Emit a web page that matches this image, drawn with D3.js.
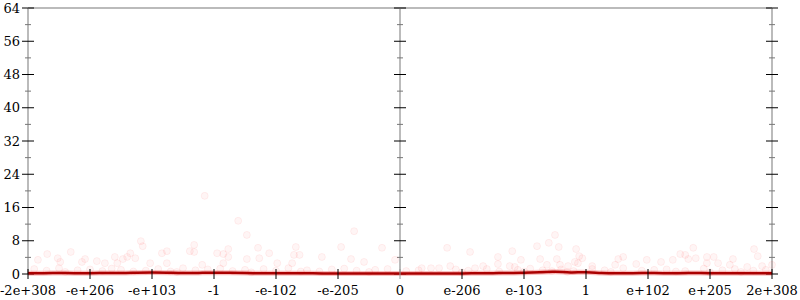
<!DOCTYPE html>
<html>
<head>
<meta charset="utf-8">
<script src="https://cdn.jsdelivr.net/npm/d3@7"></script>
<style>
  body { margin: 0; background: #fff; }
  svg text { font-family: "DejaVu Serif", serif; font-size: 13px; fill: #000; }
</style>
</head>
<body>
<svg id="chart" width="800" height="300"></svg>
<script>
// x is measured in tick steps along the ordered float range, 0 .. 12
var xTickLabels = ["-2e+308", "-e+206", "-e+103", "-1", "-e-102", "-e-205", "0",
                   "e-206", "e-103", "1", "e+102", "e+205", "2e+308"];
var yMax = 64;

// smoothed count, one value every quarter step
var lineX = [0, 0.25, 0.5, 0.75, 1, 1.25, 1.5, 1.75, 2, 2.25, 2.5, 2.75, 3, 3.25, 3.5, 3.75,
             4, 4.25, 4.5, 4.75, 5, 5.25, 5.5, 5.75, 6, 6.25, 6.5, 6.75, 7, 7.25, 7.5, 7.75,
             8, 8.25, 8.5, 8.75, 9, 9.25, 9.5, 9.75, 10, 10.25, 10.5, 10.75, 11, 11.25, 11.5, 11.75, 12];
var lineY = [0.2, 0.2, 0.25, 0.2, 0.2, 0.25, 0.2, 0.3, 0.35, 0.3, 0.2, 0.25, 0.35, 0.3, 0.2, 0.2,
             0.15, 0.2, 0.2, 0.15, 0.1, 0.15, 0.1, 0.1, 0.1, 0.1, 0.15, 0.1, 0.15, 0.2, 0.2, 0.25,
             0.3, 0.45, 0.6, 0.3, 0.5, 0.2, 0.2, 0.2, 0.25, 0.2, 0.2, 0.25, 0.2, 0.2, 0.2, 0.2, 0.2];

// sampled points
var dotX = [2.85, 1.82, 1.85, 2.68, 2.68, 2.24, 2.16, 0.69, 0.31, 0.16, 1.65, 1.60, 1.53, 1.40, 1.73, 1.11,
            0.92, 0.87, 0.48, 0.52, 1.44, 1.97, 2.24, 2.61, 2.81, 1.24, 3.39, 3.53, 5.26, 5.05, 5.71, 5.92,
            3.15, 3.05, 3.23, 3.23, 3.71, 3.89, 4.32, 4.29, 4.38, 3.73, 3.53, 4.02, 4.26, 4.74, 5.21, 5.42,
            3.15, 8.50, 8.40, 8.56, 8.21, 8.84, 8.89, 8.94, 8.82, 6.76, 7.13, 7.58, 7.81, 7.95, 7.58, 8.26,
            8.53, 8.58, 8.37, 6.81, 6.63, 6.35, 7.77, 7.85, 7.21, 7.34, 8.71, 8.87, 10.73, 10.52, 10.60, 10.65,
            10.77, 10.95, 10.95, 11.06, 11.13, 11.37, 11.32, 11.71, 11.77, 9.60, 9.52, 9.98, 10.21, 10.40, 9.81, 9.47,
            9.10, 11.84, 12.0, 11.60,
            0.1, 0.3, 0.5, 0.8, 1.0, 1.2, 1.35, 1.5, 1.9, 2.1, 2.3, 2.5, 2.7, 2.9, 3.1, 3.3,
            3.5, 3.8, 4.0, 4.2, 4.5, 4.7, 4.9, 5.1, 5.3, 5.6, 5.8, 6.1, 6.3, 6.5, 6.9, 7.1,
            7.4, 7.6, 7.9, 8.1, 8.3, 8.6, 8.8, 9.1, 9.3, 9.6, 9.9, 10.1, 10.3, 10.6, 10.9, 11.2,
            11.4, 11.7, 11.9, 0.6, 1.7, 2.4, 3.6, 4.4, 5.5, 7.0, 8.0, 8.45, 8.7, 9.4, 10.45, 11.0, 11.5];
var dotY = [18.8, 7.9, 6.7, 7.0, 5.3, 5.5, 5.0, 5.3, 4.8, 3.4, 5.0, 4.1, 3.6, 4.1, 3.8, 3.1,
            3.6, 2.9, 3.8, 2.9, 2.6, 2.6, 2.6, 5.5, 2.2, 2.6, 12.8, 9.4, 10.3, 6.5, 6.3, 3.4,
            4.8, 5.0, 6.0, 4.1, 6.3, 5.0, 6.5, 4.6, 4.6, 3.8, 3.6, 2.6, 2.6, 4.1, 3.6, 2.9,
            2.6, 9.4, 7.5, 6.5, 6.7, 6.0, 4.3, 3.8, 2.9, 6.3, 5.3, 4.1, 5.5, 3.4, 2.4, 3.6,
            3.6, 2.2, 2.2, 1.9, 1.4, 1.4, 1.9, 1.7, 1.4, 1.9, 1.9, 2.6, 6.3, 4.8, 4.6, 3.6,
            3.8, 4.1, 2.6, 4.1, 2.6, 3.6, 2.2, 6.0, 4.3, 4.1, 3.6, 3.4, 2.9, 3.4, 2.4, 2.2,
            1.9, 1.9, 2.2, 1.7,
            1.2, 0.8, 1.4, 0.9, 1.1, 0.7, 1.3, 1.0, 0.8, 1.2, 0.6, 1.4, 0.9, 1.1, 1.3, 0.7,
            1.0, 1.2, 0.8, 1.4, 0.9, 0.6, 1.1, 1.3, 0.8, 1.0, 1.2, 0.7, 0.9, 1.4, 1.1, 0.8,
            1.2, 0.6, 1.0, 1.3, 0.9, 1.1, 0.7, 1.2, 0.9, 1.4, 0.8, 1.0, 1.1, 0.7, 1.3, 0.9,
            1.2, 0.8, 1.0, 0.5, 0.6, 0.5, 0.4, 0.6, 0.5, 0.4, 0.6, 0.7, 0.5, 0.5, 0.6, 0.4, 0.5];

var margin = {top: 8, right: 28, bottom: 26, left: 28},
    width = 800 - margin.left - margin.right,
    height = 300 - margin.top - margin.bottom;

var x = d3.scaleLinear().domain([0, xTickLabels.length - 1]).range([0, width]);
var y = d3.scaleLinear().domain([0, yMax]).range([height, 0]);

var svg = d3.select("#chart")
  .append("g")
    .attr("transform", "translate(" + margin.left + "," + margin.top + ")");

// frame: top line plus the three vertical axes
svg.append("line")
    .attr("x1", 0).attr("x2", width)
    .attr("y1", 0).attr("y2", 0)
    .attr("stroke", "#bbb").attr("stroke-width", 2);

var axisXs = [0, (xTickLabels.length - 1) / 2, xTickLabels.length - 1];
var majorTicks = d3.range(0, yMax + 1, 8),
    minorTicks = d3.range(4, yMax, 8);

axisXs.forEach(function(ax, i) {
  var g = svg.append("g").attr("transform", "translate(" + x(ax) + ",0)");
  g.append("line")
      .attr("y1", 0).attr("y2", height)
      .attr("stroke", "#bbb").attr("stroke-width", 2);
  g.selectAll(".minor").data(minorTicks).enter().append("line")
      .attr("x1", -3).attr("x2", 3)
      .attr("y1", function(d) { return y(d); })
      .attr("y2", function(d) { return y(d); })
      .attr("stroke", "#777");
  g.selectAll(".major").data(majorTicks).enter().append("line")
      .attr("x1", -6).attr("x2", 6)
      .attr("y1", function(d) { return y(d); })
      .attr("y2", function(d) { return y(d); })
      .attr("stroke", "#000");
  if (i === 0) {
    g.selectAll("text").data(majorTicks).enter().append("text")
        .attr("x", -8)
        .attr("y", function(d) { return y(d); })
        .attr("dy", "0.35em")
        .attr("text-anchor", "end")
        .text(function(d) { return d; });
  }
});

// dots
svg.append("g").selectAll("circle")
    .data(dotX)
  .enter().append("circle")
    .attr("cx", function(d) { return x(d); })
    .attr("cy", function(d, i) { return y(dotY[i]); })
    .attr("r", 3.5)
    .attr("fill", "red")
    .attr("fill-opacity", 0.04)
    .attr("stroke", "red")
    .attr("stroke-opacity", 0.06);

// line
var line = d3.line()
    .x(function(d) { return x(d); })
    .y(function(d, i) { return y(lineY[i]); })
    .curve(d3.curveBasis);

svg.append("path")
    .datum(lineX)
    .attr("d", line)
    .attr("fill", "none")
    .attr("stroke", "#e33")
    .attr("stroke-opacity", 0.3)
    .attr("stroke-width", 5);

svg.append("path")
    .datum(lineX)
    .attr("d", line)
    .attr("fill", "none")
    .attr("stroke", "#a00")
    .attr("stroke-width", 2.5);

// bottom ticks and labels
var xAxis = svg.append("g").attr("transform", "translate(0," + height + ")");
var xt = xAxis.selectAll("g").data(xTickLabels).enter().append("g")
    .attr("transform", function(d, i) { return "translate(" + x(i) + ",0)"; });
xt.append("line")
    .attr("y1", -5).attr("y2", 5)
    .attr("stroke", function(d, i) { return i === 6 ? "#999" : "#000"; });
xt.append("text")
    .attr("y", 21)
    .attr("text-anchor", "middle")
    .text(function(d) { return d; });
</script>
</body>
</html>
